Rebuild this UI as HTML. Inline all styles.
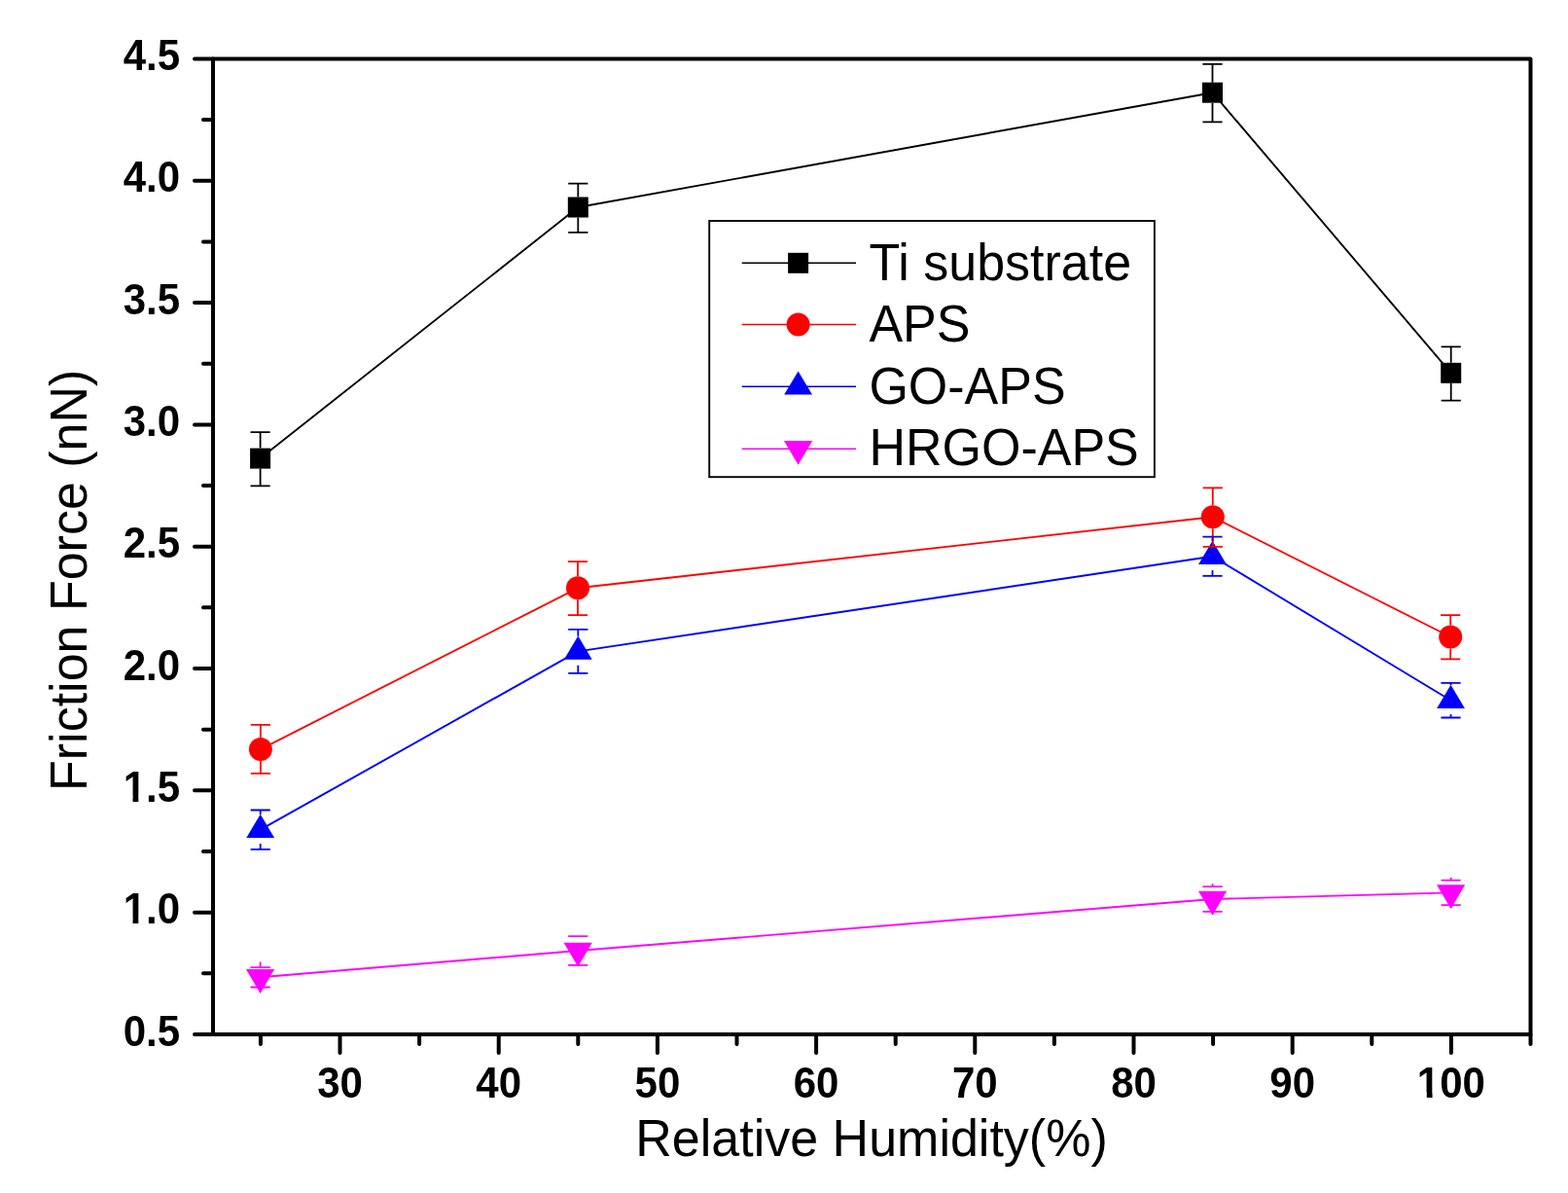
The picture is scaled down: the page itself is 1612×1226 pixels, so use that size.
<!DOCTYPE html><html><head><meta charset="utf-8"><title>Friction Force vs Relative Humidity</title><style>html,body{margin:0;padding:0;background:#fff;}body{width:1612px;height:1226px;overflow:hidden;}svg{display:block;}</style></head><body><svg width="1612" height="1226" viewBox="0 0 1612 1226">
<rect width="1612" height="1226" fill="#fff"/>
<polyline points="267.60,471.10 594.30,213.00 1246.50,95.20 1491.70,383.30" fill="none" stroke="#000000" stroke-width="1.9" stroke-linejoin="round"/>
<polyline points="267.90,770.00 594.00,604.30 1246.80,531.30 1491.20,654.50" fill="none" stroke="#ff0000" stroke-width="1.9" stroke-linejoin="round"/>
<polyline points="267.70,852.70 594.30,669.40 1246.50,571.75 1491.50,719.70" fill="none" stroke="#0000ff" stroke-width="1.9" stroke-linejoin="round"/>
<polyline points="267.60,1004.30 594.20,977.00 1246.60,924.00 1491.60,917.40" fill="none" stroke="#ff00ff" stroke-width="1.9" stroke-linejoin="round"/>
<rect x="257.10" y="460.60" width="21.00" height="21.00" fill="#000000"/>
<rect x="583.80" y="202.50" width="21.00" height="21.00" fill="#000000"/>
<rect x="1236.00" y="84.70" width="21.00" height="21.00" fill="#000000"/>
<rect x="1481.20" y="372.80" width="21.00" height="21.00" fill="#000000"/>
<circle cx="267.90" cy="770.00" r="12.00" fill="#ff0000"/>
<circle cx="594.00" cy="604.30" r="12.00" fill="#ff0000"/>
<circle cx="1246.80" cy="531.30" r="12.00" fill="#ff0000"/>
<circle cx="1491.20" cy="654.50" r="12.00" fill="#ff0000"/>
<polygon points="267.70,836.80 282.10,861.00 253.30,861.00" fill="#0000ff"/>
<polygon points="594.30,653.50 608.70,677.70 579.90,677.70" fill="#0000ff"/>
<polygon points="1246.50,555.85 1260.90,580.05 1232.10,580.05" fill="#0000ff"/>
<polygon points="1491.50,703.80 1505.90,728.00 1477.10,728.00" fill="#0000ff"/>
<polygon points="253.00,996.10 282.20,996.10 267.60,1020.90" fill="#ff00ff"/>
<polygon points="579.60,968.80 608.80,968.80 594.20,993.60" fill="#ff00ff"/>
<polygon points="1232.00,915.80 1261.20,915.80 1246.60,940.60" fill="#ff00ff"/>
<polygon points="1477.00,909.20 1506.20,909.20 1491.60,934.00" fill="#ff00ff"/>
<path d="M267.60,460.60V444.20M257.50,444.20H277.70M267.60,481.60V499.30M257.50,499.30H277.70M594.30,202.50V188.60M584.20,188.60H604.40M594.30,223.50V238.80M584.20,238.80H604.40M1246.50,84.70V65.80M1236.40,65.80H1256.60M1246.50,105.70V125.30M1236.40,125.30H1256.60M1491.70,372.80V356.40M1481.60,356.40H1501.80M1491.70,393.80V411.60M1481.60,411.60H1501.80" fill="none" stroke="#000000" stroke-width="1.8" stroke-linecap="butt"/>
<path d="M267.90,758.00V744.90M257.80,744.90H278.00M267.90,782.00V794.90M257.80,794.90H278.00M594.00,592.30V577.10M583.90,577.10H604.10M594.00,616.30V632.20M583.90,632.20H604.10M1246.80,519.30V501.40M1236.70,501.40H1256.90M1246.80,543.30V561.90M1236.70,561.90H1256.90M1491.20,642.50V632.20M1481.10,632.20H1501.30M1491.20,666.50V677.30M1481.10,677.30H1501.30" fill="none" stroke="#ff0000" stroke-width="1.8" stroke-linecap="butt"/>
<path d="M267.70,837.10V832.50M257.60,832.50H277.80M267.70,867.00V872.90M257.60,872.90H277.80M594.30,653.80V646.90M584.20,646.90H604.40M594.30,683.70V691.90M584.20,691.90H604.40M1246.50,556.15V551.60M1236.40,551.60H1256.60M1246.50,586.05V591.90M1236.40,591.90H1256.60M1491.50,704.10V701.90M1481.40,701.90H1501.60M1491.50,734.00V737.50M1481.40,737.50H1501.60" fill="none" stroke="#0000ff" stroke-width="1.8" stroke-linecap="butt"/>
<path d="M267.60,988.60V994.10M257.50,994.10H277.70M267.60,1020.00V1014.50M257.50,1014.50H277.70M594.20,961.30V962.10M584.10,962.10H604.30M594.20,992.70V991.90M584.10,991.90H604.30M1246.60,908.30V911.10M1236.50,911.10H1256.70M1246.60,939.70V936.90M1236.50,936.90H1256.70M1491.60,901.70V904.60M1481.50,904.60H1501.70M1491.60,933.10V930.10M1481.50,930.10H1501.70" fill="none" stroke="#ff00ff" stroke-width="1.8" stroke-linecap="butt"/>
<rect x="219.0" y="60.4" width="1354.5" height="1002.6" fill="none" stroke="#000" stroke-width="4.0" stroke-linejoin="round"/>
<path d="M219.00,1063.00H200.00M219.00,1000.34H209.00M219.00,937.67H200.00M219.00,875.01H209.00M219.00,812.35H200.00M219.00,749.69H209.00M219.00,687.02H200.00M219.00,624.36H209.00M219.00,561.70H200.00M219.00,499.04H209.00M219.00,436.38H200.00M219.00,373.71H209.00M219.00,311.05H200.00M219.00,248.39H209.00M219.00,185.73H200.00M219.00,123.06H209.00M219.00,60.40H200.00M267.90,1063.00V1073.00M349.50,1063.00V1082.00M431.10,1063.00V1073.00M512.70,1063.00V1082.00M594.30,1063.00V1073.00M675.90,1063.00V1082.00M757.50,1063.00V1073.00M839.10,1063.00V1082.00M920.70,1063.00V1073.00M1002.30,1063.00V1082.00M1083.90,1063.00V1073.00M1165.50,1063.00V1082.00M1247.10,1063.00V1073.00M1328.70,1063.00V1082.00M1410.30,1063.00V1073.00M1491.90,1063.00V1082.00M1573.50,1063.00V1073.00" fill="none" stroke="#000" stroke-width="4.0" stroke-linecap="round"/>
<g font-family="Liberation Sans, Arial, sans-serif" font-weight="bold" font-size="42" fill="#000">
<text transform="translate(185,1074.60) scale(1,1.04)" text-anchor="end">0.5</text>
<text transform="translate(185,949.27) scale(1,1.04)" text-anchor="end">1.0</text>
<text transform="translate(185,823.95) scale(1,1.04)" text-anchor="end">1.5</text>
<text transform="translate(185,698.62) scale(1,1.04)" text-anchor="end">2.0</text>
<text transform="translate(185,573.30) scale(1,1.04)" text-anchor="end">2.5</text>
<text transform="translate(185,447.98) scale(1,1.04)" text-anchor="end">3.0</text>
<text transform="translate(185,322.65) scale(1,1.04)" text-anchor="end">3.5</text>
<text transform="translate(185,197.33) scale(1,1.04)" text-anchor="end">4.0</text>
<text transform="translate(185,72.00) scale(1,1.04)" text-anchor="end">4.5</text>
<text transform="translate(349.50,1128.2) scale(1,1.04)" text-anchor="middle">30</text>
<text transform="translate(512.70,1128.2) scale(1,1.04)" text-anchor="middle">40</text>
<text transform="translate(675.90,1128.2) scale(1,1.04)" text-anchor="middle">50</text>
<text transform="translate(839.10,1128.2) scale(1,1.04)" text-anchor="middle">60</text>
<text transform="translate(1002.30,1128.2) scale(1,1.04)" text-anchor="middle">70</text>
<text transform="translate(1165.50,1128.2) scale(1,1.04)" text-anchor="middle">80</text>
<text transform="translate(1328.70,1128.2) scale(1,1.04)" text-anchor="middle">90</text>
<text transform="translate(1491.90,1128.2) scale(1,1.04)" text-anchor="middle">100</text>
</g>
<rect x="127.82" y="943.67" width="8.70" height="6.2" fill="#fff"/>
<rect x="142.32" y="943.67" width="7.50" height="6.2" fill="#fff"/>
<rect x="127.82" y="818.35" width="8.70" height="6.2" fill="#fff"/>
<rect x="142.32" y="818.35" width="7.50" height="6.2" fill="#fff"/>
<rect x="1458.07" y="1122.60" width="8.70" height="6.2" fill="#fff"/>
<rect x="1472.57" y="1122.60" width="7.50" height="6.2" fill="#fff"/>
<g font-family="Liberation Sans, Arial, sans-serif" font-size="52" fill="#000">
<text transform="translate(653.3,1188) scale(1,1.04)">Relative Humidity(%)</text>
<text transform="translate(89.2,813.0) rotate(-90) scale(1,1.04)">Friction Force (nN)</text>
</g>
<rect x="729.2" y="227.0" width="457.70000000000005" height="263.2" fill="#fff" stroke="#000" stroke-width="1.9"/>
<line x1="762.7" y1="270.3" x2="880" y2="270.3" stroke="#000000" stroke-width="1.5"/>
<rect x="810.10" y="259.80" width="21.00" height="21.00" fill="#000000"/>
<line x1="762.7" y1="333.5" x2="880" y2="333.5" stroke="#ff0000" stroke-width="1.5"/>
<circle cx="820.60" cy="333.50" r="12.00" fill="#ff0000"/>
<line x1="762.7" y1="397.3" x2="880" y2="397.3" stroke="#0000ff" stroke-width="1.5"/>
<polygon points="820.60,381.40 835.00,405.60 806.20,405.60" fill="#0000ff"/>
<line x1="762.7" y1="461.2" x2="880" y2="461.2" stroke="#ff00ff" stroke-width="1.5"/>
<polygon points="806.00,453.00 835.20,453.00 820.60,477.80" fill="#ff00ff"/>
<g font-family="Liberation Sans, Arial, sans-serif" font-size="52" fill="#000">
<text transform="translate(893.4,288.0) scale(1,1.04)">Ti substrate</text>
<text transform="translate(893.4,351.4) scale(1,1.04)">APS</text>
<text transform="translate(893.4,414.8) scale(1,1.04)">GO-APS</text>
<text transform="translate(893.4,478.4) scale(1,1.04)">HRGO-APS</text>
</g>
</svg></body></html>
